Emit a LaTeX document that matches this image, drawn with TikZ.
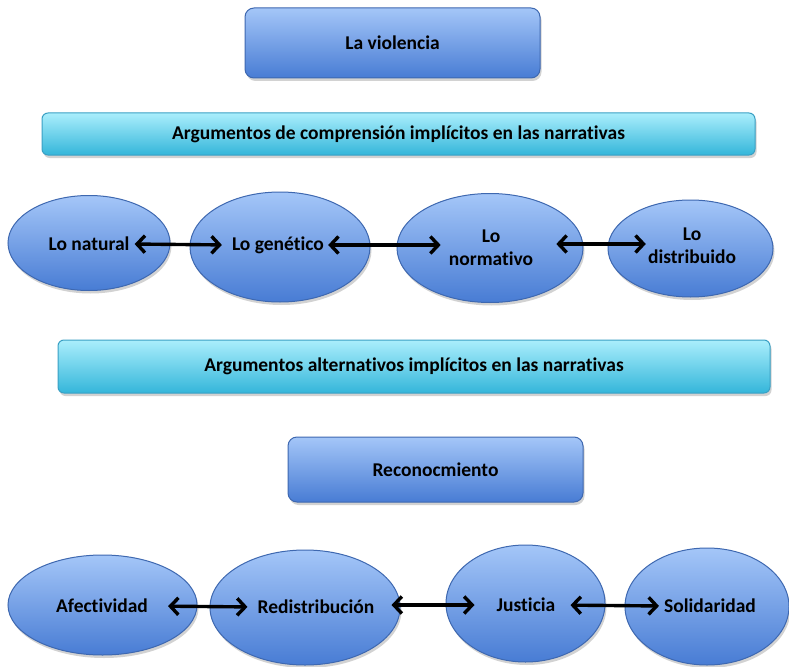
\documentclass[tikz,border=0pt]{standalone}
\usepackage{fontspec}
\setmainfont{Carlito}[Ligatures={NoCommon}]
\usetikzlibrary{shapes.geometric,shadows,arrows.meta}
\definecolor{boxtop}{RGB}{164,198,248}
\definecolor{boxbot}{RGB}{72,124,212}
\definecolor{boxedge}{RGB}{62,104,176}
\definecolor{bartop}{RGB}{170,238,252}
\definecolor{barbot}{RGB}{52,182,218}
\definecolor{baredge}{RGB}{58,160,196}
\tikzset{
  sombra/.style={drop shadow={opacity=.35,shadow xshift=1.5pt,shadow yshift=-3pt}},
  caja/.style={draw=boxedge,line width=1pt,rounded corners=9pt,top color=boxtop,
    bottom color=boxbot,sombra,font=\bfseries\fontsize{19.5}{23}\selectfont},
  barra/.style={caja,draw=baredge,top color=bartop,bottom color=barbot,rounded corners=6pt},
  ovalo/.style={ellipse,draw=boxedge,line width=1pt,top color=boxtop,bottom color=boxbot,
    sombra,inner sep=0pt},
  texto/.style={font=\bfseries\fontsize{19.5}{23}\selectfont,align=center,inner sep=1pt},
  flecha/.style={line width=3.4pt,
    {Straight Barb[length=8pt,width=17pt]}-{Straight Barb[length=8pt,width=17pt]}}
}
\begin{document}
\begin{tikzpicture}[x=1pt,y=-1pt]
        \useasboundingbox[fill=white] (0,0) rectangle (789,666);

        % cajas
        \node[caja,minimum width=295pt,minimum height=70pt] (violencia) at (392.5,43) {La violencia};
        \node[barra,minimum width=713pt,minimum height=42pt] (comprension) at (398.5,134)
            {Argumentos de comprensión implícitos en las narrativas};
        \node[barra,minimum width=712pt,minimum height=53pt] (alternativos) at (414,366.5)
            {Argumentos alternativos implícitos en las narrativas};
        \node[caja,minimum width=295pt,minimum height=65pt] (reconoc) at (435.5,469.5) {Reconocmiento};

        % primera fila
        \node[ovalo,minimum width=162pt,minimum height=95pt] (natural) at (89,243) {};
        \node[ovalo,minimum width=180pt,minimum height=110pt] (genetico) at (280,247) {};
        \node[ovalo,minimum width=186pt,minimum height=109pt] (normativo) at (490,248) {};
        \node[ovalo,minimum width=165pt,minimum height=97pt] (distribuido) at (690.5,248.5) {};
        \node[texto] (naturalT) at (89,244) {Lo natural};
        \node[texto] (geneticoT) at (278,245) {Lo genético};
        \node[texto] (normativoT) at (491,248) {Lo\\normativo};
        \node[texto] (distribuidoT) at (692,246) {Lo\\distribuido};
        \draw[flecha,shorten <=4pt,shorten >=9pt] (naturalT.east) -- (geneticoT.west);
        \draw[flecha,shorten <=3pt,shorten >=7pt] (geneticoT.east) -- (geneticoT.east -| normativoT.west);
        \draw[flecha,shorten <=22pt,shorten >=1pt] (normativoT.east |- naturalT.east) -- (distribuidoT.west |- naturalT.east);

        % segunda fila
        \node[ovalo,minimum width=189pt,minimum height=100pt] (afectividad) at (102.5,605) {};
        \node[ovalo,minimum width=190pt,minimum height=115pt] (redistribucion) at (305,607.5) {};
        \node[ovalo,minimum width=159pt,minimum height=117pt] (justicia) at (525.5,603.5) {};
        \node[ovalo,minimum width=164pt,minimum height=117pt] (solidaridad) at (707,606.5) {};
        \node[texto] (afectividadT) at (102,606) {Afectividad};
        \node[texto] (redistribucionT) at (316,607) {Redistribución};
        \node[texto] (justiciaT) at (526,605) {Justicia};
        \node[texto] (solidaridadT) at (710,606) {Solidaridad};
        \draw[flecha,shorten <=19pt,shorten >=9pt] (afectividadT.east) -- (redistribucionT.west);
        \draw[flecha,shorten <=16pt,shorten >=21pt] (redistribucionT.east |- justiciaT.west) -- (justiciaT.west);
        \draw[flecha,shorten <=14pt,shorten >=4pt] (justiciaT.east) -- (solidaridadT.west);
\end{tikzpicture}
\end{document}
